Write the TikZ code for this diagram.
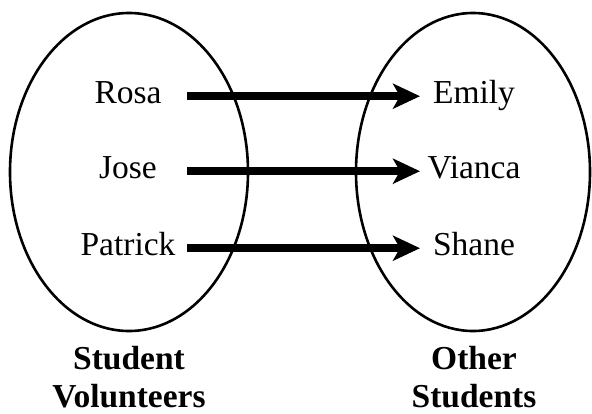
\documentclass[tikz,border=0pt]{standalone}
\usepackage{fontspec}
\setmainfont{Liberation Serif}
\usetikzlibrary{arrows.meta}

\tikzset{
  setline/.style={line width=2.6pt},
  member/.style={inner sep=0pt, anchor=base, font=\fontsize{33.5}{38}\selectfont},
  caption/.style={inner sep=0pt, anchor=base, align=center,
                  font=\fontsize{33.5}{38}\selectfont\bfseries},
  maps/.style={line width=8.5pt,
               -{Stealth[length=27pt, width=25pt, inset=7pt]}},
}

\begin{document}
\begin{tikzpicture}[x=1pt, y=-1pt]
  \useasboundingbox (0,0) rectangle (592,413);

  % the two sets
  \draw[setline] (129,172) ellipse [x radius=119, y radius=159];
  \draw[setline] (473,172) ellipse [x radius=117, y radius=159];

  % members of the first set
  \node[member] (rosa)    at (128,103) {Rosa};
  \node[member] (jose)    at (128,178) {Jose};
  \node[member] (patrick) at (128,255) {Patrick};

  % members of the second set
  \node[member] (emily)  at (474,103) {Emily};
  \node[member] (vianca) at (474,178) {Vianca};
  \node[member] (shane)  at (474,255) {Shane};

  % where the arrows start and where their tips end
  \coordinate (from) at (187,0);
  \coordinate (to)   at (420,0);

  \draw[maps] ([yshift=6.8pt]rosa.base -| from)    -- ([yshift=6.8pt]emily.base -| to);
  \draw[maps] ([yshift=6.8pt]jose.base -| from)    -- ([yshift=6.8pt]vianca.base -| to);
  \draw[maps] ([yshift=6.8pt]patrick.base -| from) -- ([yshift=6.8pt]shane.base -| to);

  % set names (anchored on the baseline of the second line)
  \node[caption] (volunteers) at (129,407) {Student\\Volunteers};
  \node[caption] (others)     at (474,407) {Other\\Students};
\end{tikzpicture}
\end{document}
